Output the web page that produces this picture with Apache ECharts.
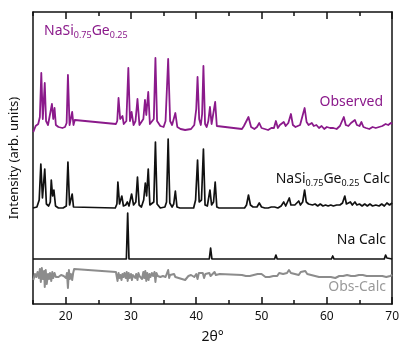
<!DOCTYPE html>
<html>
<head>
<meta charset="utf-8">
<script src="https://cdn.jsdelivr.net/npm/echarts@6/dist/echarts.min.js"></script>
<style>
  html, body { margin: 0; padding: 0; background: #fff; }
  #chart { width: 402px; height: 351px; }
</style>
</head>
<body>
<div id="chart"></div>
<script>
// 2theta range and labelled ticks
const xMin = 15
const xMax = 70
const tickLabels = [20, 30, 40, 50, 60, 70]

// patterns: [2theta, intensity above own baseline] (arb. units)
const observed = [
  [15.05, -3], [15.4, 3], [15.8, 5], [16.05, 12], [16.27, 56], [16.5, 10], [16.8, 46], [17.0, 8],
  [17.3, 4], [17.6, 6], [17.9, 25], [18.1, 10], [18.3, 21], [18.5, 4], [18.9, 2], [19.5, 1],
  [19.9, 2], [20.15, 6], [20.35, 54], [20.6, 4], [20.85, 5], [21.0, 17], [21.2, 4], [21.4, 9],
  [27.7, 5], [27.9, 8], [28.1, 31], [28.35, 10], [28.7, 13], [28.9, 5], [29.3, 8], [29.6, 61],
  [29.85, 8], [30.1, 17], [30.4, 4], [30.7, 8], [31.0, 30], [31.3, 4], [31.6, 3], [31.9, 10],
  [32.15, 29], [32.35, 14], [32.65, 37], [32.9, 5], [33.2, 3], [33.5, 10], [33.75, 71], [34.0, 8],
  [34.5, 3], [35.0, 2], [35.3, 8], [35.7, 70], [36.0, 8], [36.3, 4], [36.8, 16], [37.1, 2],
  [37.6, 0], [38.3, -1], [39.2, 0], [39.7, 4], [40.0, 20], [40.2, 52], [40.45, 10], [40.7, 4],
  [40.9, 15], [41.1, 63], [41.35, 5], [41.6, 2], [41.85, 8], [42.1, 22], [42.35, 5], [42.6, 6],
  [42.9, 27], [43.15, 3], [43.3, 1], [47.0, 0], [47.3, 3], [47.6, 5], [48.0, 12], [48.4, 2],
  [48.9, 0], [49.3, 2], [49.65, 6], [50.0, 1], [50.5, 0], [51.0, -1], [51.5, 1], [51.9, 1],
  [52.2, 8], [52.5, 1], [52.8, 4], [53.1, 3], [53.4, 7], [53.7, 3], [54.1, 6], [54.5, 15],
  [54.8, 4], [55.2, 2], [55.5, 3], [55.9, 4], [56.2, 6], [56.6, 21], [56.9, 7], [57.2, 4],
  [57.45, 4], [57.7, 6], [58.0, 3], [58.4, 4], [58.8, 1], [59.2, 3], [59.6, 0], [60.0, 2],
  [60.5, 1], [61.0, 1], [61.5, 0], [62.0, 3], [62.3, 5], [62.6, 12], [62.9, 4], [63.3, 3],
  [63.7, 6], [64.0, 4], [64.3, 9], [64.6, 4], [65.0, 3], [65.3, 7], [65.6, 2], [66.0, 1],
  [66.5, 0], [67.0, 2], [67.5, 1], [68.0, 2], [68.5, 3], [69.0, 5], [69.4, 4], [69.8, 6], [70, 5]
]

const calcNaSiGe = [
  [15.0, 0], [15.6, 1], [15.95, 8], [16.2, 44], [16.45, 10], [16.8, 39], [17.05, 4], [17.4, 2],
  [17.65, 6], [17.8, 28], [18.0, 12], [18.2, 18], [18.45, 2], [18.9, 0], [19.6, 0], [20.1, 2],
  [20.35, 46], [20.6, 3], [20.8, 2], [21.0, 14], [21.2, 1], [21.5, 0], [27.6, 0], [27.85, 4],
  [28.0, 26], [28.25, 4], [28.6, 12], [28.85, 2], [29.2, 3], [29.45, 6], [29.7, 2], [30.1, 14],
  [30.4, 3], [30.75, 6], [31.0, 31], [31.25, 3], [31.6, 1], [31.95, 8], [32.2, 25], [32.4, 12],
  [32.65, 39], [32.9, 3], [33.2, 1], [33.5, 6], [33.75, 66], [34.0, 4], [34.5, 0], [35.2, 1],
  [35.45, 6], [35.7, 69], [35.95, 5], [36.3, 1], [36.55, 4], [36.8, 17], [37.05, 1], [37.5, 0],
  [39.6, 0], [39.9, 8], [40.2, 48], [40.45, 6], [40.8, 8], [41.1, 59], [41.35, 3], [41.7, 2],
  [42.1, 18], [42.35, 3], [42.65, 6], [42.9, 26], [43.15, 1], [43.5, 0], [47.4, 0], [47.7, 3],
  [48.0, 13], [48.3, 3], [48.7, 1], [49.3, 1], [49.65, 5], [50.0, 1], [50.5, 0], [51.0, 0],
  [51.5, 1], [52.0, 1], [52.5, 0], [53.0, 2], [53.4, 6], [53.7, 2], [54.0, 4], [54.25, 10],
  [54.5, 3], [54.8, 4], [55.1, 3], [55.4, 4], [55.7, 7], [55.95, 3], [56.3, 6], [56.6, 18],
  [56.85, 6], [57.2, 4], [57.5, 6], [57.8, 3], [58.2, 4], [58.6, 2], [59.0, 4], [59.4, 2],
  [59.8, 3], [60.2, 2], [60.6, 3], [61.0, 2], [61.5, 3], [62.0, 3], [62.4, 5], [62.75, 12],
  [63.0, 4], [63.3, 3], [63.6, 6], [63.9, 3], [64.3, 6], [64.6, 3], [65.0, 4], [65.4, 2],
  [65.8, 4], [66.2, 2], [66.6, 4], [67.0, 2], [67.5, 3], [68.0, 2], [68.4, 4], [68.8, 2],
  [69.2, 5], [69.6, 3], [70, 5]
]

const calcNa = [
  [15, 0], [29.3, 0], [29.5, 46], [29.7, 0], [42.0, 0], [42.2, 11], [42.4, 0], [52.0, 0],
  [52.2, 4], [52.4, 0], [60.7, 0], [60.9, 3], [61.1, 0], [68.8, 0], [69.0, 4], [69.2, 1], [70, 0]
]

const obsMinusCalc = [
  [15.05, -4], [15.3, 2], [15.5, -1], [15.7, 4], [15.9, -2], [16.05, 7], [16.2, -6], [16.35, 8],
  [16.5, -3], [16.7, 5], [16.8, -11], [16.95, 6], [17.1, -8], [17.3, 2], [17.45, -3], [17.6, 3],
  [17.8, -5], [17.95, 4], [18.1, -2], [18.3, 3], [18.5, -1], [18.7, 1], [18.9, -1], [19.1, 0],
  [19.3, 1], [19.5, -1], [19.7, 0], [19.9, 1], [20.05, -2], [20.2, 3], [20.35, -12], [20.5, 6],
  [20.65, -3], [20.8, 2], [21.0, -4], [21.15, 3], [21.3, 7], [27.7, 4], [27.8, 2], [27.95, -5],
  [28.1, 3], [28.25, -2], [28.4, 1], [28.55, -4], [28.7, 2], [28.85, -1], [29.0, 3], [29.2, -2],
  [29.35, 4], [29.5, -5], [29.65, 3], [29.8, -2], [30.0, 2], [30.15, -4], [30.3, 1], [30.5, 3],
  [30.65, -2], [30.8, 2], [31.0, -4], [31.15, 3], [31.3, 0], [31.5, 2], [31.7, -3], [31.9, 4],
  [32.05, -2], [32.2, 5], [32.35, -5], [32.5, 3], [32.7, -4], [32.85, 2], [33.0, -1], [33.2, 3],
  [33.4, 0], [33.6, 4], [33.75, -6], [33.9, 3], [34.1, 0], [34.3, 2], [34.5, -1], [34.7, 1],
  [34.9, 0], [35.1, 2], [35.3, -1], [35.5, 1], [35.7, 6], [35.85, -2], [36.0, 1], [36.3, 0],
  [36.6, 2], [36.8, -1], [37.0, 1], [37.3, -2], [37.8, -3], [38.3, -4], [38.6, -3], [38.8, 0],
  [39.0, 2], [39.2, 1], [39.5, 3], [39.7, -1], [40.0, 2], [40.2, -3], [40.4, 3], [40.7, 1],
  [41.0, 3], [41.2, -2], [41.4, 2], [41.7, 1], [42.0, 3], [42.2, 0], [42.5, 2], [42.8, 4],
  [43.0, 1], [43.3, 3], [43.6, 2], [47.0, 1], [47.3, 2], [47.6, 0], [47.9, 2], [48.2, 0],
  [48.5, -1], [48.8, 1], [49.1, 0], [49.4, 2], [49.7, 1], [50.0, 2], [50.3, 0], [50.6, -1],
  [50.9, 0], [51.2, -1], [51.5, 1], [51.8, 0], [52.1, 2], [52.4, 0], [52.7, 3], [53.0, 1],
  [53.3, 2], [53.6, 4], [53.9, 3], [54.2, 6], [54.5, 3], [54.8, 4], [55.1, 2], [55.4, 3],
  [55.7, 1], [56.0, 4], [56.3, 2], [56.7, 5], [57.0, 2], [57.3, 3], [57.6, 1], [57.9, 2],
  [58.2, 0], [58.5, 1], [58.8, -1], [59.1, 0], [59.4, -1], [59.7, 0], [60.0, -1], [60.3, -2],
  [60.6, -1], [60.9, -3], [61.3, -2], [61.6, -1], [61.9, 0], [62.2, 1], [62.5, 0], [62.8, 2],
  [63.1, 1], [63.4, 2], [63.7, 0], [64.0, 1], [64.3, 0], [64.6, 2], [64.9, 1], [65.2, 0],
  [65.5, 1], [65.8, -1], [66.1, 0], [66.4, 1], [66.7, 0], [67.0, -1], [67.3, 0], [67.6, 1],
  [67.9, 0], [68.2, -1], [68.5, 0], [68.8, 1], [69.1, -1], [69.4, 1], [69.7, 0], [70, 1]
]

// vertical stacking offsets of each pattern
const offsets = { observed: 175, calc: 96, na: 45, diff: 28 }
const yMax = 292

const FONT = 'Noto Sans'
const PURPLE = '#8b1a8b'
const INK = '#111'

const shift = (pts, off) => pts.map(p => [p[0], p[1] + off])

const lineSeries = (name, pts, off, color, width) => ({
  name,
  type: 'line',
  xAxisIndex: 0,
  yAxisIndex: 0,
  data: shift(pts, off),
  showSymbol: false,
  symbol: 'none',
  smooth: false,
  lineStyle: { color, width, join: 'round' },
  z: 3
})

// frame axis: position + major (labelled) or minor ticks
const frameX = (position, major, withLine) => ({
  type: 'value',
  min: xMin,
  max: xMax,
  interval: 5,
  position,
  axisLine: { show: withLine, onZero: false, lineStyle: { color: INK, width: 1.5 } },
  axisTick: major
    ? { show: true, inside: true, length: 7, customValues: tickLabels, lineStyle: { color: INK, width: 1.5 } }
    : { show: true, inside: true, length: 4, lineStyle: { color: INK, width: 1.5 } },
  axisLabel: { show: false },
  splitLine: { show: false }
})

const chart = echarts.init(document.getElementById('chart'), null, { renderer: 'canvas' })

const bottomAxis = frameX('bottom', true, true)
bottomAxis.name = '2θ°'
bottomAxis.nameLocation = 'middle'
bottomAxis.nameGap = 26
bottomAxis.nameTextStyle = { fontSize: 14, color: INK, fontFamily: FONT }
bottomAxis.axisLabel = {
  show: true,
  customValues: tickLabels,
  color: INK,
  fontSize: 12,
  margin: 7,
  fontFamily: FONT
}

const option = {
  animation: false,
  textStyle: { fontFamily: FONT },
  grid: { left: 32, right: 9, top: 12, bottom: 47 },
  xAxis: [
    bottomAxis,
    frameX('top', true, true),
    frameX('bottom', false, false),
    frameX('top', false, false)
  ],
  yAxis: [
    {
      type: 'value',
      min: 0,
      max: yMax,
      position: 'left',
      name: 'Intensity (arb. units)',
      nameLocation: 'middle',
      nameGap: 12,
      nameTextStyle: { fontSize: 13, color: INK, fontFamily: FONT },
      axisLine: { show: true, onZero: false, lineStyle: { color: INK, width: 1.5 } },
      axisTick: { show: false },
      axisLabel: { show: false },
      splitLine: { show: false }
    },
    {
      type: 'value',
      min: 0,
      max: yMax,
      position: 'right',
      axisLine: { show: true, onZero: false, lineStyle: { color: INK, width: 1.5 } },
      axisTick: { show: false },
      axisLabel: { show: false },
      splitLine: { show: false }
    }
  ],
  series: [
    lineSeries('Obs-Calc', obsMinusCalc, offsets.diff, '#8c8c8c', 2),
    lineSeries('Na Calc', calcNa, offsets.na, INK, 1.7),
    lineSeries('NaSi0.75Ge0.25 Calc', calcNaSiGe, offsets.calc, INK, 1.7),
    lineSeries('Observed', observed, offsets.observed, PURPLE, 1.8)
  ],
  graphic: [
    {
      type: 'text',
      left: 44,
      top: 24,
      style: {
        text: '{m|NaSi}{s|0.75}{m|Ge}{s|0.25}',
        rich: {
          m: { fontSize: 14, fill: PURPLE, fontFamily: FONT },
          s: { fontSize: 9, fill: PURPLE, fontFamily: FONT, padding: [9, 0, 0, 0] }
        }
      }
    },
    {
      type: 'text',
      right: 19,
      top: 95,
      style: { text: 'Observed', fontSize: 14, fill: PURPLE, fontFamily: FONT }
    },
    {
      type: 'text',
      right: 12,
      top: 172,
      style: {
        text: '{m|NaSi}{s|0.75}{m|Ge}{s|0.25}{m| Calc}',
        rich: {
          m: { fontSize: 14, fill: INK, fontFamily: FONT },
          s: { fontSize: 9, fill: INK, fontFamily: FONT, padding: [9, 0, 0, 0] }
        }
      }
    },
    {
      type: 'text',
      right: 16,
      top: 233,
      style: { text: 'Na Calc', fontSize: 14, fill: INK, fontFamily: FONT }
    },
    {
      type: 'text',
      right: 16,
      top: 280,
      style: { text: 'Obs-Calc', fontSize: 14, fill: '#999', fontFamily: FONT }
    }
  ]
}

chart.setOption(option)
</script>
</body>
</html>
